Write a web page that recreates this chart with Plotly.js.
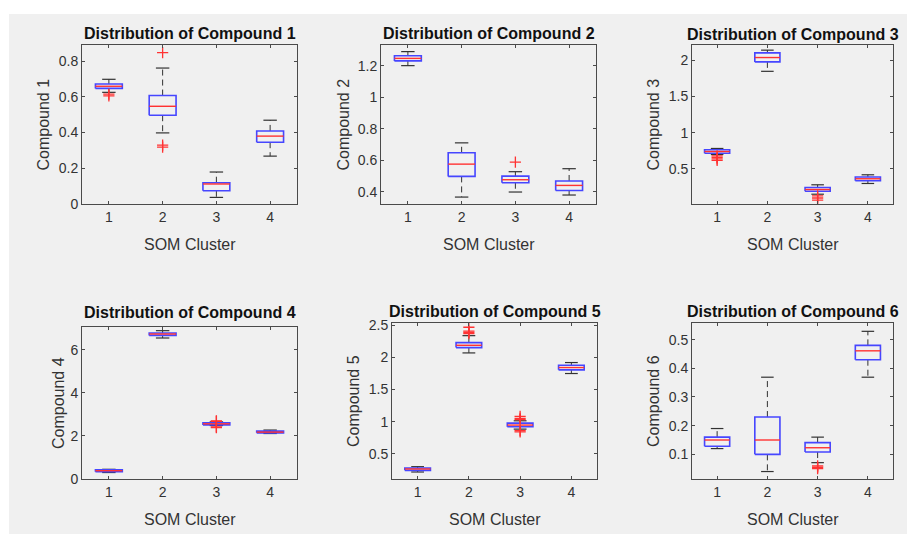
<!DOCTYPE html>
<html>
<head>
<meta charset="utf-8">
<script src="https://cdn.plot.ly/plotly-3.0.1.min.js"></script>
<style>html,body{margin:0;padding:0;background:#fff;}#chart{width:907px;height:534px;}</style>
</head>
<body>
<div id="chart"></div>
<script>
// ---------- DATA ----------
const clusters = [1, 2, 3, 4];
const xTickText = ["1", "2", "3", "4"];

// Compound 1
const c1Lo  = [0.625, 0.398, 0.037, 0.268];
const c1Q1  = [0.647, 0.497, 0.074, 0.346];
const c1Med = [0.659, 0.547, 0.112, 0.380];
const c1Q3  = [0.672, 0.607, 0.119, 0.409];
const c1Hi  = [0.698, 0.761, 0.179, 0.469];
const c1Out = [[0.615, 0.605], [0.847, 0.330, 0.318], [], []];
const c1Ticks = [0, 0.2, 0.4, 0.6, 0.8];
const c1TickText = ["0", "0.2", "0.4", "0.6", "0.8"];
const c1Range = [0, 0.89];

// Compound 2
const c2Lo  = [1.200, 0.366, 0.398, 0.379];
const c2Q1  = [1.230, 0.497, 0.457, 0.408];
const c2Med = [1.246, 0.575, 0.476, 0.440];
const c2Q3  = [1.263, 0.647, 0.499, 0.468];
const c2Hi  = [1.289, 0.710, 0.527, 0.546];
const c2Out = [[], [], [0.588], []];
const c2Ticks = [0.4, 0.6, 0.8, 1, 1.2];
const c2TickText = ["0.4", "0.6", "0.8", "1", "1.2"];
const c2Range = [0.322, 1.331];

// Compound 3
const c3Lo  = [0.700, 1.847, 0.152, 0.300];
const c3Q1  = [0.718, 1.977, 0.193, 0.337];
const c3Med = [0.741, 2.037, 0.217, 0.365];
const c3Q3  = [0.765, 2.102, 0.245, 0.389];
const c3Hi  = [0.783, 2.139, 0.282, 0.420];
const c3Out = [[0.68, 0.66, 0.64, 0.62], [], [0.13, 0.10, 0.07], []];
const c3Ticks = [0.5, 1, 1.5, 2];
const c3TickText = ["0.5", "1", "1.5", "2"];
const c3Range = [0.017, 2.21];

// Compound 4
const c4Lo  = [0.30, 6.54, 2.48, 2.11];
const c4Q1  = [0.34, 6.66, 2.51, 2.14];
const c4Med = [0.386, 6.725, 2.56, 2.175];
const c4Q3  = [0.43, 6.77, 2.61, 2.22];
const c4Hi  = [0.45, 6.88, 2.65, 2.27];
const c4Out = [[], [], [2.70, 2.67, 2.42, 2.38], []];
const c4Ticks = [0, 2, 4, 6];
const c4TickText = ["0", "2", "4", "6"];
const c4Range = [0, 7.05];

// Compound 5
const c5Lo  = [0.215, 2.070, 0.883, 1.749];
const c5Q1  = [0.241, 2.153, 0.920, 1.806];
const c5Med = [0.262, 2.189, 0.946, 1.842];
const c5Q3  = [0.277, 2.230, 0.977, 1.878];
const c5Hi  = [0.298, 2.339, 1.013, 1.920];
const c5Out = [[], [2.47, 2.41, 2.39, 2.37], [1.08, 1.05, 1.03, 0.86, 0.84], []];
const c5Ticks = [0.5, 1, 1.5, 2, 2.5];
const c5TickText = ["0.5", "1", "1.5", "2", "2.5"];
const c5Range = [0.106, 2.536];

// Compound 6
const c6Lo  = [0.120, 0.040, 0.071, 0.369];
const c6Q1  = [0.128, 0.100, 0.108, 0.430];
const c6Med = [0.150, 0.150, 0.123, 0.461];
const c6Q3  = [0.160, 0.230, 0.141, 0.480];
const c6Hi  = [0.190, 0.369, 0.160, 0.529];
const c6Out = [[], [], [0.060, 0.055, 0.050], []];
const c6Ticks = [0.1, 0.2, 0.3, 0.4, 0.5];
const c6TickText = ["0.1", "0.2", "0.3", "0.4", "0.5"];
const c6Range = [0.014, 0.558];

const titles = ["Distribution of Compound 1", "Distribution of Compound 2", "Distribution of Compound 3",
                "Distribution of Compound 4", "Distribution of Compound 5", "Distribution of Compound 6"];
const yLabels = ["Compound 1", "Compound 2", "Compound 3", "Compound 4", "Compound 5", "Compound 6"];
const xLabel = "SOM Cluster";

// ---------- LAYOUT (pixels) ----------
const W = 907, H = 534;
const boxes = [ // [left, right, top, bottom]
  [82, 297, 45, 204], [381, 596, 45, 204], [692, 893, 45, 204],
  [82, 297, 327, 479], [392, 597, 323, 479], [692, 893, 323, 479]
];
const titleY = [33, 33, 34, 312, 311, 311];
const yLabelOffset = [39, 38, 39, 24, 39, 39];
const xLabelOffset = 40;

const stats = [
  [c1Lo, c1Q1, c1Med, c1Q3, c1Hi, c1Out, c1Ticks, c1TickText, c1Range],
  [c2Lo, c2Q1, c2Med, c2Q3, c2Hi, c2Out, c2Ticks, c2TickText, c2Range],
  [c3Lo, c3Q1, c3Med, c3Q3, c3Hi, c3Out, c3Ticks, c3TickText, c3Range],
  [c4Lo, c4Q1, c4Med, c4Q3, c4Hi, c4Out, c4Ticks, c4TickText, c4Range],
  [c5Lo, c5Q1, c5Med, c5Q3, c5Hi, c5Out, c5Ticks, c5TickText, c5Range],
  [c6Lo, c6Q1, c6Med, c6Q3, c6Hi, c6Out, c6Ticks, c6TickText, c6Range]
];

const FONT = "Liberation Sans, Arial, Helvetica, sans-serif";
const AXC = "#4a4a4a";
const BLUE = "rgb(70,70,255)";
const RED = "rgb(255,50,50)";
const halfW = 0.25, capHalf = 0.125;

const traces = [];
const layout = {
  width: W, height: H,
  margin: {l: 0, r: 0, t: 0, b: 0},
  paper_bgcolor: "#ffffff",
  plot_bgcolor: "#ffffff",
  showlegend: false,
  font: {family: FONT, color: "#333"},
  shapes: [{type: "rect", xref: "paper", yref: "paper", x0: 9 / W, x1: 1, y0: 0, y1: 1 - 14 / H,
            fillcolor: "#f0f0f0", line: {width: 0}, layer: "below"}],
  annotations: []
};

stats.forEach((s, k) => {
  const [lo, q1, med, q3, hi, out, ticks, tickText, yr] = s;
  const n = k + 1;
  const xa = "x" + (n === 1 ? "" : n), ya = "y" + (n === 1 ? "" : n);
  const bx = [], by = [], mx = [], my = [], wx = [], wy = [], cx = [], cy = [], ox = [], oy = [];
  clusters.forEach((c, i) => {
    bx.push(c - halfW, c + halfW, c + halfW, c - halfW, c - halfW, null);
    by.push(q1[i], q1[i], q3[i], q3[i], q1[i], null);
    mx.push(c - halfW, c + halfW, null); my.push(med[i], med[i], null);
    wx.push(c, c, null, c, c, null); wy.push(q3[i], hi[i], null, q1[i], lo[i], null);
    cx.push(c - capHalf, c + capHalf, null, c - capHalf, c + capHalf, null);
    cy.push(hi[i], hi[i], null, lo[i], lo[i], null);
    out[i].forEach(v => { ox.push(c); oy.push(v); });
  });
  traces.push({type: "scatter", mode: "lines", x: wx, y: wy, xaxis: xa, yaxis: ya,
               line: {color: "rgb(50,50,50)", width: 1, dash: "6px,4px"}, hoverinfo: "skip"});
  traces.push({type: "scatter", mode: "lines", x: cx, y: cy, xaxis: xa, yaxis: ya,
               line: {color: "rgb(50,50,50)", width: 1.2}, hoverinfo: "skip"});
  traces.push({type: "scatter", mode: "lines", x: bx, y: by, xaxis: xa, yaxis: ya,
               line: {color: BLUE, width: 1.6}, hoverinfo: "skip"});
  traces.push({type: "scatter", mode: "lines", x: mx, y: my, xaxis: xa, yaxis: ya,
               line: {color: RED, width: 1.4}, hoverinfo: "skip"});
  traces.push({type: "scatter", mode: "markers", x: ox, y: oy, xaxis: xa, yaxis: ya,
               marker: {symbol: "cross-thin-open", size: 8, color: RED, line: {color: RED, width: 1.3}}, hoverinfo: "skip"});

  const [L, R, T, B] = boxes[k];
  const axCommon = {
    showline: true, linecolor: AXC, linewidth: 1, mirror: "ticks",
    ticks: "inside", ticklen: 3, tickcolor: AXC, tickwidth: 1,
    showgrid: false, zeroline: false, fixedrange: true,
    tickfont: {family: FONT, size: 14, color: "#333"}
  };
  layout["xaxis" + (n === 1 ? "" : n)] = Object.assign({}, axCommon, {
    domain: [L / W, R / W], anchor: ya, range: [0.5, 4.5],
    tickmode: "array", tickvals: clusters, ticktext: xTickText
  });
  layout["yaxis" + (n === 1 ? "" : n)] = Object.assign({}, axCommon, {
    domain: [1 - B / H, 1 - T / H], anchor: xa, range: yr,
    tickmode: "array", tickvals: ticks, ticktext: tickText
  });
  layout.annotations.push({
    text: "<b>" + titles[k] + "</b>", xref: "paper", yref: "paper",
    x: (L + R) / 2 / W, y: 1 - titleY[k] / H, xanchor: "center", yanchor: "middle",
    showarrow: false, font: {family: FONT, size: 16, color: "#111"}
  });
  layout.annotations.push({
    text: xLabel, xref: "paper", yref: "paper",
    x: (L + R) / 2 / W, y: 1 - (B + xLabelOffset) / H, xanchor: "center", yanchor: "middle",
    showarrow: false, font: {family: FONT, size: 16, color: "#333"}
  });
  layout.annotations.push({
    text: yLabels[k], xref: "paper", yref: "paper", textangle: -90,
    x: (L - yLabelOffset[k]) / W, y: 1 - (T + B) / 2 / H, xanchor: "center", yanchor: "middle",
    showarrow: false, font: {family: FONT, size: 16, color: "#333"}
  });
});

Plotly.newPlot("chart", traces, layout, {displayModeBar: false, staticPlot: true});
</script>
</body>
</html>
